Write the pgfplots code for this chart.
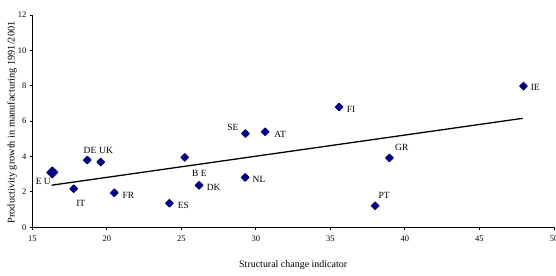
\documentclass[border=0pt]{standalone}
\usepackage{fontspec}
\setmainfont{Liberation Serif}
\usepackage{pgfplots}
\pgfplotsset{compat=1.18}
\definecolor{navyb}{RGB}{0,0,128}
\begin{document}
\begin{tikzpicture}
\begin{axis}[
  name=ax,
  scale only axis,
  width=521.7bp, height=212.3bp,
  xmin=15, xmax=50, ymin=0, ymax=12,
  axis x line*=bottom, axis y line*=left,
  xtick={15,20,...,50}, ytick={0,2,...,12},
  tick align=outside,
  major tick length=2.5bp,
  axis line style={line width=1.3bp, black},
  tick style={black, line width=0.9bp},
  /pgf/number format/assume math mode=true,
  ticklabel style={font=\fontsize{8.5}{9}\selectfont},
  xticklabel style={yshift=-3bp},
  clip=false,
  xlabel={Structural change indicator},
  ylabel={Productivity growth in manufacturing 1991/2001},
  xlabel style={at={(axis description cs:0.5,-0.1776)}, anchor=center, font=\fontsize{10}{11}\selectfont},
  ylabel style={at={(axis description cs:-0.0389,0.494)}, anchor=center, font=\fontsize{10.3}{11}\selectfont},
]
\addplot[black, line width=1.3bp] coordinates {(16.3,2.38) (47.9,6.16)};
\addplot[only marks, mark=square*, mark size=2.7bp, mark options={rotate=45, fill=navyb, draw=navyb, line join=round, line width=1bp}] coordinates {
(17.78,2.18) (18.69,3.80) (19.59,3.69) (20.50,1.95) (24.20,1.36)
(25.23,3.95) (26.19,2.37) (29.28,2.82) (29.30,5.30) (30.62,5.40)
(35.58,6.80) (38.96,3.92) (38.00,1.22) (47.95,7.98)};
\addplot[only marks, mark=square*, mark size=3.9bp, mark options={rotate=45, fill=navyb, draw=navyb, line join=round, line width=1bp}] coordinates {(16.34,3.10)};
\begin{scope}[every node/.style={font=\fontsize{9.5}{10}\selectfont, inner sep=0pt}]
\node at (axis cs:15.74,2.58) {E U};
\node at (axis cs:18.87,4.37) {DE};
\node at (axis cs:19.95,4.37) {UK};
\node at (axis cs:18.25,1.36) {IT};
\node at (axis cs:21.44,1.79) {FR};
\node at (axis cs:25.13,1.24) {ES};
\node at (axis cs:26.21,3.05) {B E};
\node at (axis cs:27.17,2.26) {DK};
\node at (axis cs:30.21,2.71) {NL};
\node at (axis cs:28.45,5.63) {SE};
\node at (axis cs:31.62,5.27) {AT};
\node at (axis cs:36.39,6.67) {FI};
\node at (axis cs:39.79,4.50) {GR};
\node at (axis cs:38.60,1.79) {PT};
\node at (axis cs:48.74,7.91) {IE};
\end{scope}
\end{axis}
\pgfresetboundingbox
\path ([shift={(-32.3bp,-48.7bp)}]ax.south west) rectangle ([shift={(2bp,15bp)}]ax.north east);
\end{tikzpicture}
\end{document}
